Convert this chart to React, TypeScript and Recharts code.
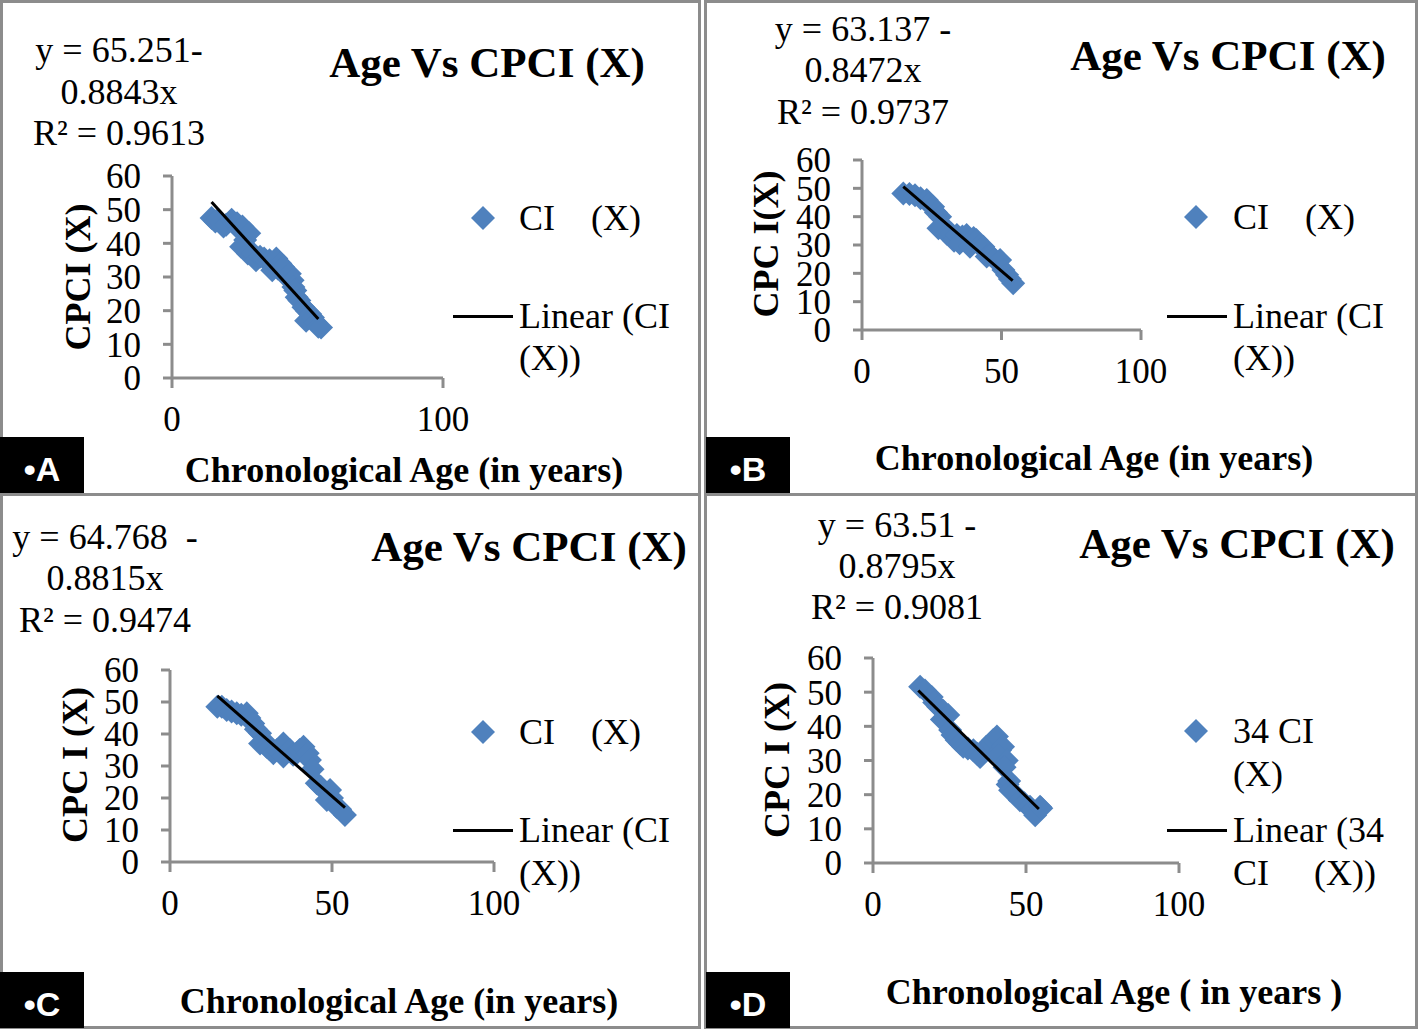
import { ScatterChart, Scatter, XAxis, YAxis } from 'recharts';

// values
const ageA = [14.6, 16, 17, 19, 20, 22, 23, 24, 25, 26, 27, 28.5, 25.5, 28, 30, 31, 32.5, 34, 36, 38.5, 37, 39, 40, 41, 42.3, 43.5, 44.5, 44.8, 45.5, 46, 47, 48.5, 49.7, 49.5, 51, 52, 53, 54, 55];
const cpciA = [47.5, 46.5, 47, 45, 45.5, 47, 46, 46, 44, 45, 41, 43, 39, 37, 37, 35, 36, 35.5, 35, 35.5, 32, 32.5, 34, 33, 30, 31, 29, 27, 26, 24, 23, 21, 20, 17, 19, 18, 16.5, 15.2, 15];
const trendAgeA = [14.6, 54];
const trendCpciA = [52.3, 17.5];

const ageB = [14.8, 17, 19, 21, 23.2, 24, 25.5, 26.5, 28, 29, 27.4, 30.4, 32, 33, 34, 36, 37.5, 35, 38.7, 40, 41, 42, 43.5, 44.7, 46, 47.5, 49.5, 50.7, 52, 53, 54.2];
const cpciB = [48.2, 48, 47.6, 46.5, 45.9, 44.5, 43.5, 41.5, 40, 37, 35.9, 34, 34, 31.5, 33.5, 33, 33.5, 30.6, 29.4, 32.5, 31.8, 30, 29.4, 25.9, 26.5, 25, 24.7, 21.2, 19.5, 18, 16.5];
const trendAgeB = [14.8, 54];
const trendCpciB = [50.6, 17.4];

const ageC = [14.6, 16, 17.5, 19, 20.6, 22, 23.7, 24.5, 25.7, 26.5, 27.8, 27.8, 29, 29.8, 30.5, 31.9, 33, 35, 35, 37, 38, 39.1, 40, 41.2, 42.5, 43.2, 44, 45.3, 46.5, 49.4, 48.4, 50, 51.4, 52.5, 54];
const cpciC = [48.5, 48.5, 47.5, 47, 46.5, 46, 46.5, 45, 43.3, 41.5, 40.2, 37, 38, 36, 35.5, 34, 35, 37, 33, 35, 33.5, 34, 35, 36, 34, 31.9, 29, 24.6, 23.5, 22.5, 19.4, 20, 17.3, 16.5, 14.7];
const trendAgeC = [14.6, 54];
const trendCpciC = [51.9, 17.0];

const ageD = [15.4, 17, 19.2, 20, 21.3, 23, 22.5, 24.6, 25.2, 26, 27.3, 28.5, 29.5, 31, 32.8, 34, 35, 37, 38.5, 39.3, 41.5, 40.5, 42.5, 41, 43.7, 43, 44, 44.5, 44.8, 46, 48, 49.5, 51.3, 52, 54.6, 53, 55];
const cpciD = [51.6, 50.5, 48.6, 47, 45.7, 44.5, 42, 43.3, 38.9, 37.5, 36, 35, 34, 33.5, 33, 32, 31, 34, 35, 36, 33, 37, 34, 31.5, 30, 28, 23, 24, 21.3, 20.5, 18.4, 17.5, 16.5, 15.5, 16.5, 14, 16];
const trendAgeD = [14.8, 54.2];
const trendCpciD = [50.5, 15.8];

const yTicks = [0, 10, 20, 30, 40, 50, 60];
const xTicksA = [0, 100];
const xTicksBCD = [0, 50, 100];

const BLUE = '#4F81BD';
const GRID = '#8c8c8c';
const SERIF = '"Liberation Serif", "Times New Roman", serif';

const toPoints = (xs: number[], ys: number[]) => xs.map((x, i) => ({ x, y: ys[i] }));

const Diamond = (props: any) => {
  const { cx, cy } = props;
  const r = 12;
  return <path d={`M${cx},${cy - r}L${cx + r},${cy}L${cx},${cy + r}L${cx - r},${cy}Z`} fill={BLUE} />;
};
const NoShape = () => null;

function Txt({ x, y, size, bold, left, rotate, children }: any) {
  return (
    <div
      style={{
        position: 'absolute',
        left: x,
        top: y,
        transform: `translate(${left ? '0' : '-50%'}, -50%)${rotate ? ' rotate(-90deg)' : ''}`,
        fontFamily: SERIF,
        fontSize: size,
        fontWeight: bold ? 'bold' : 'normal',
        whiteSpace: 'pre',
        lineHeight: 1,
        color: '#000',
      }}
    >
      {children}
    </div>
  );
}

function Plot({ box, xTicks, age, cpci, tAge, tCpci }: any) {
  const [x0, y0, x1, y1] = box;
  const yW = 80;
  const xH = 60;
  const mt = 20;
  const mr = 40;
  const tick = { fontFamily: SERIF, fontSize: 35, fill: '#000' };
  const line = { stroke: GRID, strokeWidth: 3 };
  return (
    <div style={{ position: 'absolute', left: x0 - yW, top: y0 - mt }}>
      <ScatterChart width={x1 - x0 + yW + mr} height={y1 - y0 + mt + xH} margin={{ top: mt, right: mr, bottom: 0, left: 0 }}>
        <XAxis type="number" dataKey="x" domain={[0, 100]} ticks={xTicks} height={xH} tick={tick}
          axisLine={line} tickLine={line} tickSize={10} tickMargin={18} interval={0} />
        <YAxis type="number" dataKey="y" domain={[0, 60]} ticks={yTicks} width={yW} tick={tick}
          axisLine={line} tickLine={line} tickSize={9} tickMargin={22} interval={0} />
        <Scatter data={toPoints(age, cpci)} shape={Diamond} isAnimationActive={false} />
        <Scatter data={toPoints(tAge, tCpci)} shape={NoShape} line={{ stroke: '#000', strokeWidth: 3 }} isAnimationActive={false} />
      </ScatterChart>
    </div>
  );
}

function LegendDiamond({ x, y }: any) {
  return (
    <svg style={{ position: 'absolute', left: x - 13, top: y - 13 }} width={26} height={26}>
      <path d="M13,1L25,13L13,25L1,13Z" fill={BLUE} />
    </svg>
  );
}

function LegendLine({ x, y }: any) {
  return <div style={{ position: 'absolute', left: x, top: y - 1.5, width: 60, height: 3, background: '#000' }} />;
}

function Frame({ x, y, w, h }: any) {
  return <div style={{ position: 'absolute', left: x, top: y, width: w, height: h, boxSizing: 'border-box', border: `3px solid ${GRID}` }} />;
}

function Tag({ x, y, label }: any) {
  return (
    <div style={{ position: 'absolute', left: x, top: y, width: 84, height: 56, background: '#000', color: '#fff',
      fontFamily: '"Liberation Sans", Arial, sans-serif', fontWeight: 'bold', fontSize: 34,
      display: 'flex', alignItems: 'center', justifyContent: 'center', paddingTop: 8, boxSizing: 'border-box' }}>
      {'\u2022' + label}
    </div>
  );
}

export default function App() {
  return (
    <div style={{ position: 'relative', width: 1418, height: 1029, background: '#fff', overflow: 'hidden' }}>
      <style>{'body{margin:0}'}</style>
      <Frame x={0} y={0} w={701} h={496} />
      <Frame x={704} y={0} w={714} h={496} />
      <Frame x={0} y={493} w={701} h={536} />
      <Frame x={704} y={493} w={714} h={536} />

      {/* A */}
      <Plot box={[172, 176, 443, 378]} xTicks={xTicksA} age={ageA} cpci={cpciA} tAge={trendAgeA} tCpci={trendCpciA} />
      <Txt x={119} y={50} size={36}>{'y = 65.251-'}</Txt>
      <Txt x={119} y={92} size={36}>{'0.8843x'}</Txt>
      <Txt x={119} y={133} size={36}>{'R² = 0.9613'}</Txt>
      <Txt x={487} y={62} size={43} bold>{'Age Vs CPCI (X)'}</Txt>
      <Txt x={78} y={277} size={36} bold rotate>{'CPCI (X)'}</Txt>
      <Txt x={404} y={470} size={36} bold>{'Chronological Age (in years)'}</Txt>
      <LegendDiamond x={483} y={218} />
      <Txt x={519} y={218} size={36} left>{'CI    (X)'}</Txt>
      <LegendLine x={453} y={316} />
      <Txt x={519} y={316} size={36} left>{'Linear (CI'}</Txt>
      <Txt x={519} y={358} size={36} left>{'(X))'}</Txt>
      <Tag x={0} y={437} label="A" />

      {/* B */}
      <Plot box={[862, 160, 1141, 330]} xTicks={xTicksBCD} age={ageB} cpci={cpciB} tAge={trendAgeB} tCpci={trendCpciB} />
      <Txt x={863} y={29} size={36}>{'y = 63.137 -'}</Txt>
      <Txt x={863} y={70} size={36}>{'0.8472x'}</Txt>
      <Txt x={863} y={112} size={36}>{'R² = 0.9737'}</Txt>
      <Txt x={1228} y={55} size={43} bold>{'Age Vs CPCI (X)'}</Txt>
      <Txt x={766} y={244} size={36} bold rotate>{'CPC I(X)'}</Txt>
      <Txt x={1094} y={458} size={36} bold>{'Chronological Age (in years)'}</Txt>
      <LegendDiamond x={1196} y={217} />
      <Txt x={1233} y={217} size={36} left>{'CI    (X)'}</Txt>
      <LegendLine x={1167} y={316} />
      <Txt x={1233} y={316} size={36} left>{'Linear (CI'}</Txt>
      <Txt x={1233} y={358} size={36} left>{'(X))'}</Txt>
      <Tag x={706} y={437} label="B" />

      {/* C */}
      <Plot box={[170, 670, 494, 862]} xTicks={xTicksBCD} age={ageC} cpci={cpciC} tAge={trendAgeC} tCpci={trendCpciC} />
      <Txt x={105} y={537} size={36}>{'y = 64.768  -'}</Txt>
      <Txt x={105} y={578} size={36}>{'0.8815x'}</Txt>
      <Txt x={105} y={620} size={36}>{'R² = 0.9474'}</Txt>
      <Txt x={529} y={546} size={43} bold>{'Age Vs CPCI (X)'}</Txt>
      <Txt x={75} y={765} size={36} bold rotate>{'CPC I (X)'}</Txt>
      <Txt x={399} y={1001} size={36} bold>{'Chronological Age (in years)'}</Txt>
      <LegendDiamond x={483} y={732} />
      <Txt x={519} y={732} size={36} left>{'CI    (X)'}</Txt>
      <LegendLine x={453} y={830} />
      <Txt x={519} y={830} size={36} left>{'Linear (CI'}</Txt>
      <Txt x={519} y={873} size={36} left>{'(X))'}</Txt>
      <Tag x={0} y={972} label="C" />

      {/* D */}
      <Plot box={[873, 658, 1179, 863]} xTicks={xTicksBCD} age={ageD} cpci={cpciD} tAge={trendAgeD} tCpci={trendCpciD} />
      <Txt x={897} y={525} size={36}>{'y = 63.51 -'}</Txt>
      <Txt x={897} y={566} size={36}>{'0.8795x'}</Txt>
      <Txt x={897} y={607} size={36}>{'R² = 0.9081'}</Txt>
      <Txt x={1237} y={543} size={43} bold>{'Age Vs CPCI (X)'}</Txt>
      <Txt x={777} y={760} size={36} bold rotate>{'CPC I (X)'}</Txt>
      <Txt x={1114} y={992} size={36} bold>{'Chronological Age ( in years )'}</Txt>
      <LegendDiamond x={1196} y={731} />
      <Txt x={1233} y={731} size={36} left>{'34 CI'}</Txt>
      <Txt x={1233} y={774} size={36} left>{'(X)'}</Txt>
      <LegendLine x={1167} y={830} />
      <Txt x={1233} y={830} size={36} left>{'Linear (34'}</Txt>
      <Txt x={1233} y={873} size={36} left>{'CI     (X))'}</Txt>
      <Tag x={706} y={972} label="D" />
    </div>
  );
}
